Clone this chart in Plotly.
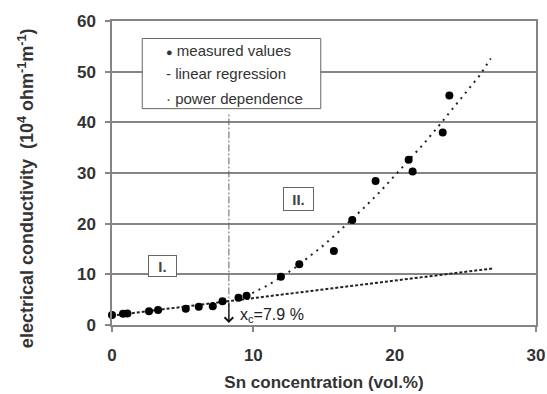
import plotly.graph_objects as go

# measured values (Sn vol.% , conductivity 10^4 ohm^-1 m^-1)
conc = [0, 0.78, 1.09, 2.62, 3.26, 5.22, 6.14, 7.13, 7.82, 8.95, 9.52,
        11.95, 13.25, 15.7, 17.0, 18.65, 20.99, 21.27, 23.4, 23.87]
cond = [1.95, 2.2, 2.25, 2.7, 2.95, 3.2, 3.6, 3.7, 4.7, 5.4, 5.75,
        9.5, 12.0, 14.6, 20.7, 28.4, 32.6, 30.3, 38.0, 45.3]

# linear regression line
lin_x = [0, 26.9]
lin_y = [1.85, 11.15]

# power dependence curve
pow_x = [9, 10, 11, 12, 13, 14, 15, 16, 17, 18, 19, 20, 21, 22, 23, 24, 25, 26, 26.8]
pow_y = [5.3, 6.4, 7.8, 9.5, 11.4, 13.6, 15.8, 18.3, 20.9, 23.6, 26.4, 29.4,
         32.4, 35.6, 38.9, 42.3, 45.7, 49.2, 52.6]

# percolation threshold marker
xc_x = [8.27, 8.27]
xc_y = [0.9, 41.6]

legend_labels = ["measured values", "linear regression", "power dependence"]
legend_symbols = ["<span style='font-size:11px'>\u25cf</span>", "-", "\u00b7"]

FONT = "Arial, 'Liberation Sans', sans-serif"
GRID = "#858585"
TXT = "#333333"

fig = go.Figure()

fig.add_trace(go.Scatter(x=xc_x, y=xc_y, mode="lines",
                         line=dict(color="#666666", width=1, dash="7px,2px,2px,2px"),
                         showlegend=False, hoverinfo="skip"))
fig.add_trace(go.Scatter(x=lin_x, y=lin_y, mode="lines", name=legend_labels[1],
                         line=dict(color="#222222", width=2, dash="3px,2px"),
                         showlegend=False))
fig.add_trace(go.Scatter(x=pow_x, y=pow_y, mode="lines", name=legend_labels[2],
                         line=dict(color="#222222", width=2, dash="2px,5px"),
                         showlegend=False))
fig.add_trace(go.Scatter(x=conc, y=cond, mode="markers", name=legend_labels[0],
                         marker=dict(color="black", size=8),
                         cliponaxis=False, showlegend=False))

# legend box (drawn)
fig.add_shape(type="rect", xref="x", yref="y", x0=2.14, x1=14.77, y0=42.7, y1=56.55,
              line=dict(color="#666666", width=1), fillcolor="white", layer="above")
leg_y = [54.1, 49.6, 44.8]
for sym, lab, yy in zip(legend_symbols, legend_labels, leg_y):
    fig.add_annotation(x=3.7, y=yy, xref="x", yref="y", text=sym + " " + lab,
                       showarrow=False, xanchor="left", yanchor="middle",
                       font=dict(family=FONT, size=15, color=TXT))

# region labels
fig.add_annotation(x=3.6, y=11.7, text="<b>I.</b>", showarrow=False,
                   font=dict(family=FONT, size=15, color="#444444"),
                   bordercolor="#666666", borderwidth=1, bgcolor="white",
                   width=25, height=18, borderpad=1)
fig.add_annotation(x=13.22, y=24.8, text="<b>II.</b>", showarrow=False,
                   font=dict(family=FONT, size=15, color="#444444"),
                   bordercolor="#666666", borderwidth=1, bgcolor="white",
                   width=27, height=20, borderpad=1)

# threshold arrow and label
fig.add_annotation(x=8.27, y=0.4, ax=8.27, ay=4.6, xref="x", yref="y",
                   axref="x", ayref="y", text="", showarrow=True,
                   arrowhead=4, arrowsize=1.3, arrowwidth=1.3, arrowcolor="#111111")
fig.add_annotation(x=8.95, y=1.9, text="x<sub>c</sub>=7.9 %", showarrow=False,
                   xanchor="left", yanchor="middle",
                   font=dict(family=FONT, size=16, color="#222222"))

# y-axis title
fig.add_annotation(x=-0.203, y=0.45, xref="paper", yref="paper",
                   xanchor="center", yanchor="middle",
                   text="<b>electrical conductivity \u00a0(10<sup>4</sup> ohm<sup>-1</sup>m<sup>-1</sup>)</b>",
                   textangle=-90, showarrow=False,
                   font=dict(family=FONT, size=18, color=TXT))

fig.update_xaxes(range=[0, 30], tickvals=[0, 10, 20, 30], showgrid=False,
                 zeroline=False, showline=True, linecolor=GRID, linewidth=1.5,
                 mirror=True, ticks="outside", ticklen=5, tickcolor=GRID, tickwidth=1.5,
                 ticklabelstandoff=9, automargin=False,
                 tickfont=dict(family=FONT, size=17, color=TXT, weight="bold"),
                 title=dict(text="Sn concentration (vol.%)", standoff=12,
                            font=dict(family=FONT, size=17, color=TXT, weight="bold")))
fig.update_yaxes(range=[0, 60], tickvals=[0, 10, 20, 30, 40, 50, 60], showgrid=True,
                 gridcolor=GRID, gridwidth=1.5, zeroline=False, showline=True,
                 linecolor=GRID, linewidth=1.5, mirror=True, ticks="outside",
                 ticklen=5, tickcolor=GRID, tickwidth=1.5, ticklabelstandoff=6,
                 automargin=False,
                 tickfont=dict(family=FONT, size=17, color=TXT, weight="bold"))

fig.update_layout(width=547, height=394, margin=dict(l=112, r=11, t=21, b=69),
                  plot_bgcolor="white", paper_bgcolor="white", showlegend=False)

fig.write_html("out.html")
